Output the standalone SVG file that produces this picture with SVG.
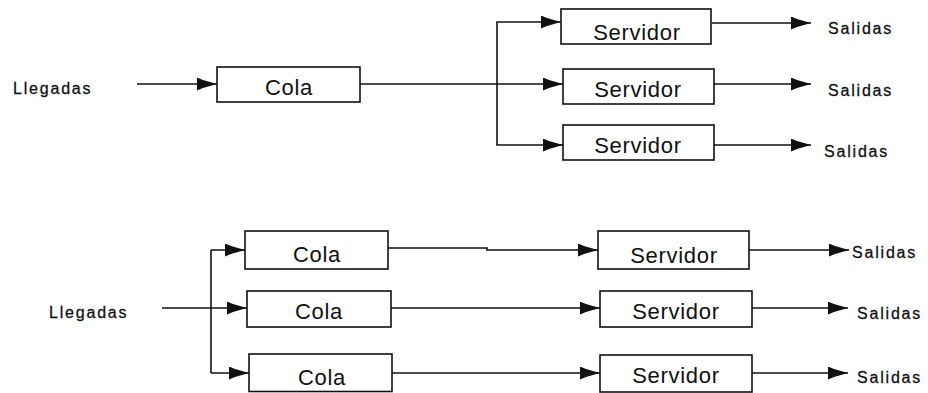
<svg xmlns="http://www.w3.org/2000/svg" width="928" height="393" viewBox="0 0 928 393">
<style>
.box{fill:#fff;stroke:#111;stroke-width:1.6}
.ln{fill:none;stroke:#111;stroke-width:1.6}
.big{font-family:"Liberation Sans",Arial,sans-serif;font-size:22px;letter-spacing:0.7px;fill:#111;text-anchor:middle}
.sm{font-family:"Liberation Sans",Arial,sans-serif;font-size:16px;letter-spacing:1.8px;fill:#111;stroke:#111;stroke-width:0.3}
</style>
<defs>
<marker id="ah" viewBox="0 0 20 13" refX="20" refY="6.5" markerWidth="20" markerHeight="13" markerUnits="userSpaceOnUse" orient="auto">
<path d="M0,0 L6,2.5 L20,6.5 L6,10.5 L0,13 Z" fill="#111"/>
</marker>
</defs>
<g id="connectors">
<line class="ln" x1="137" y1="84" x2="217" y2="84" marker-end="url(#ah)"/>
<line class="ln" x1="360" y1="84" x2="563" y2="84" marker-end="url(#ah)"/>
<line class="ln" x1="497" y1="22" x2="497" y2="145"/>
<line class="ln" x1="496.2" y1="22" x2="561" y2="22" marker-end="url(#ah)"/>
<line class="ln" x1="496.2" y1="145" x2="563" y2="145" marker-end="url(#ah)"/>
<line class="ln" x1="712" y1="23" x2="811" y2="23" marker-end="url(#ah)"/>
<line class="ln" x1="714" y1="84" x2="811" y2="84" marker-end="url(#ah)"/>
<line class="ln" x1="714" y1="145" x2="811" y2="145" marker-end="url(#ah)"/>
<line class="ln" x1="162" y1="308" x2="247" y2="308" marker-end="url(#ah)"/>
<line class="ln" x1="211" y1="250" x2="211" y2="373"/>
<line class="ln" x1="211" y1="250" x2="245" y2="250" marker-end="url(#ah)"/>
<line class="ln" x1="211" y1="373" x2="249" y2="373" marker-end="url(#ah)"/>
<polyline class="ln" points="388,248 487,248 487,250 598,250" marker-end="url(#ah)"/>
<line class="ln" x1="391" y1="308" x2="600" y2="308" marker-end="url(#ah)"/>
<line class="ln" x1="392" y1="373" x2="600" y2="373" marker-end="url(#ah)"/>
<line class="ln" x1="749" y1="250" x2="849" y2="250" marker-end="url(#ah)"/>
<line class="ln" x1="752" y1="308" x2="848" y2="308" marker-end="url(#ah)"/>
<line class="ln" x1="752" y1="373" x2="848" y2="373" marker-end="url(#ah)"/>
</g>
<g id="llegadas1"><text class="sm" x="13" y="94">Llegadas</text></g>
<g id="cola1"><rect class="box" x="217" y="67" width="143" height="35"/><text class="big" x="289" y="95">Cola</text></g>
<g id="servidor1"><rect class="box" x="561" y="9" width="150" height="35"/><text class="big" x="637" y="40">Servidor</text></g>
<g id="servidor2"><rect class="box" x="563" y="69" width="151" height="35"/><text class="big" x="638" y="97">Servidor</text></g>
<g id="servidor3"><rect class="box" x="563" y="125" width="151" height="35"/><text class="big" x="638" y="153">Servidor</text></g>
<g id="salidas1"><text class="sm" x="828" y="34">Salidas</text></g>
<g id="salidas2"><text class="sm" x="828" y="96">Salidas</text></g>
<g id="salidas3"><text class="sm" x="824" y="157">Salidas</text></g>
<g id="llegadas2"><text class="sm" x="49" y="318">Llegadas</text></g>
<g id="cola2"><rect class="box" x="245" y="231" width="143" height="38"/><text class="big" x="317" y="262">Cola</text></g>
<g id="cola3"><rect class="box" x="247" y="291" width="144" height="36"/><text class="big" x="319" y="319">Cola</text></g>
<g id="cola4"><rect class="box" x="249" y="354" width="143" height="37.5"/><text class="big" x="322" y="385">Cola</text></g>
<g id="servidor4"><rect class="box" x="598" y="231" width="151" height="38"/><text class="big" x="674" y="263">Servidor</text></g>
<g id="servidor5"><rect class="box" x="600" y="291" width="152" height="36"/><text class="big" x="676" y="319">Servidor</text></g>
<g id="servidor6"><rect class="box" x="600" y="355" width="152" height="37"/><text class="big" x="676" y="383">Servidor</text></g>
<g id="salidas4"><text class="sm" x="852" y="258">Salidas</text></g>
<g id="salidas5"><text class="sm" x="857" y="319">Salidas</text></g>
<g id="salidas6"><text class="sm" x="857" y="383">Salidas</text></g>
</svg>
